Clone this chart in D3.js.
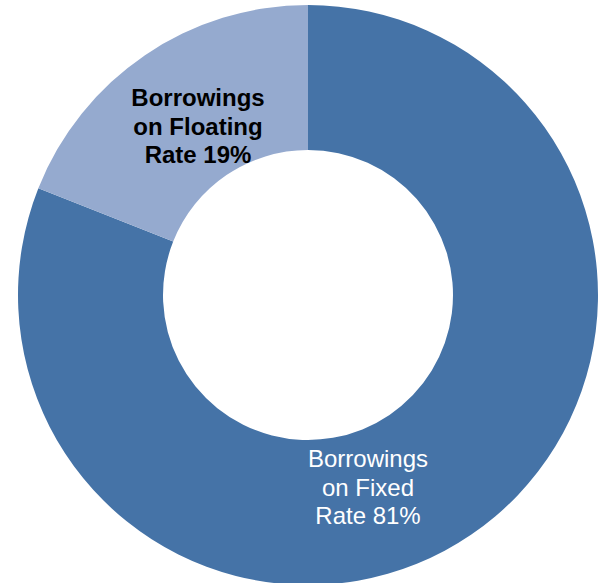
<!DOCTYPE html>
<html>
<head>
<meta charset="utf-8">
<script src="https://cdn.jsdelivr.net/npm/d3@7"></script>
<style>
  html, body { margin: 0; padding: 0; background: #fff; }
  svg { display: block; }
</style>
</head>
<body>
<svg id="chart" width="605" height="583"></svg>
<script>
const categories = ['Borrowings on Fixed Rate', 'Borrowings on Floating Rate'];
const shares = [81, 19];
const labelLines = [
    ['Borrowings', 'on Fixed', 'Rate 81%'],
    ['Borrowings', 'on Floating', 'Rate 19%']
];
const colors = ['#4573A7', '#95AACF'];

const cx = 308, cy = 295;
const outerR = 290, innerR = 145;

const svg = d3.select('#chart');
const g = svg.append('g').attr('transform', `translate(${cx},${cy})`);

const pie = d3.pie().sort(null).value(d => d);
const arcs = pie(shares);
const arc = d3.arc().innerRadius(innerR).outerRadius(outerR);

g.selectAll('path.slice')
    .data(arcs)
    .join('path')
    .attr('class', 'slice')
    .attr('d', arc)
    .attr('fill', (d, i) => colors[i]);

// label positions relative to centre (set by eye)
const labelPos = [
    {x: 60, y: 172, color: '#fff', weight: 'normal'},
    {x: -110, y: -189, color: '#000', weight: 'bold'}
];

labelLines.forEach(function (lines, i) {
    const p = labelPos[i];
    const t = g.append('text')
        .attr('text-anchor', 'middle')
        .attr('font-family', 'Liberation Sans, Arial, sans-serif')
        .attr('font-size', 24)
        .attr('font-weight', p.weight)
        .attr('fill', p.color);
    lines.forEach(function (line, j) {
        t.append('tspan')
            .attr('x', p.x)
            .attr('y', p.y + j * 28.5)
            .text(line);
    });
});
</script>
</body>
</html>
